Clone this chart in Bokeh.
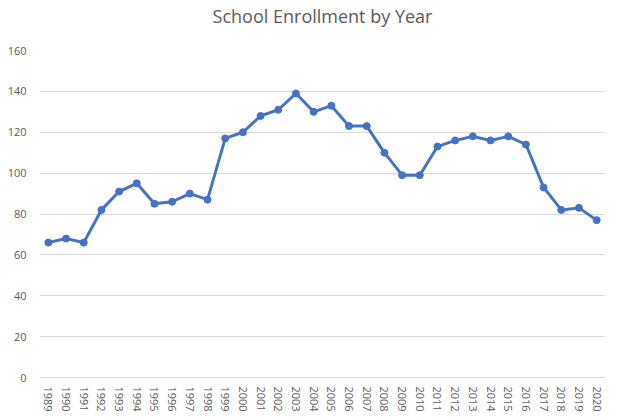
from bokeh.plotting import figure
from bokeh.models import ColumnDataSource, Range1d, FactorRange, Title
from bokeh.embed import file_html
from bokeh.resources import INLINE

years = [str(y) for y in range(1989, 2021)]
enrollment = [66, 68, 66, 82, 91, 95, 85, 86, 90, 87,
              117, 120, 128, 131, 139, 130, 133, 123, 123, 110,
              99, 99, 113, 116, 118, 116, 118, 114, 93, 82,
              83, 77]
y_ticks = [0, 20, 40, 60, 80, 100, 120, 140, 160]
title_text = "School Enrollment by Year"

src = ColumnDataSource(dict(year=years, value=enrollment))

p = figure(frame_width=566, frame_height=327, output_backend="svg", toolbar_location=None,
           x_range=FactorRange(*years, range_padding=0), y_range=Range1d(0, 160),
           min_border_left=39, min_border_right=13, min_border_top=50, min_border_bottom=43)

# spacer between the title and the plot area
p.add_layout(Title(text=" ", text_font_size="1px", standoff=20), "above")
p.add_layout(Title(text=title_text, align="center", text_font="Open Sans",
                   text_font_size="18px", text_font_style="normal", text_color="#595959",
                   standoff=0), "above")

p.line("year", "value", source=src, line_color="#4472C4", line_width=3)
p.scatter("year", "value", source=src, size=7, fill_color="#4472C4", line_color="#4472C4")

p.outline_line_color = None
p.background_fill_color = "white"
p.border_fill_color = "white"
p.xgrid.grid_line_color = None
p.ygrid.grid_line_color = "#D9D9D9"
p.ygrid.grid_line_width = 1
p.yaxis.ticker = y_ticks

for ax in (p.xaxis[0], p.yaxis[0]):
    ax.axis_line_color = None
    ax.major_tick_line_color = None
    ax.minor_tick_line_color = None
    ax.major_label_text_color = "#595959"
    ax.major_label_text_font = "Open Sans"
    ax.major_label_text_font_size = "11px"

p.xaxis.axis_line_color = "#D9D9D9"
p.yaxis.major_label_standoff = 7
p.xaxis.major_label_orientation = "vertical"
p.xaxis.major_label_standoff = 3

open("out.html", "w").write(file_html(p, INLINE))
